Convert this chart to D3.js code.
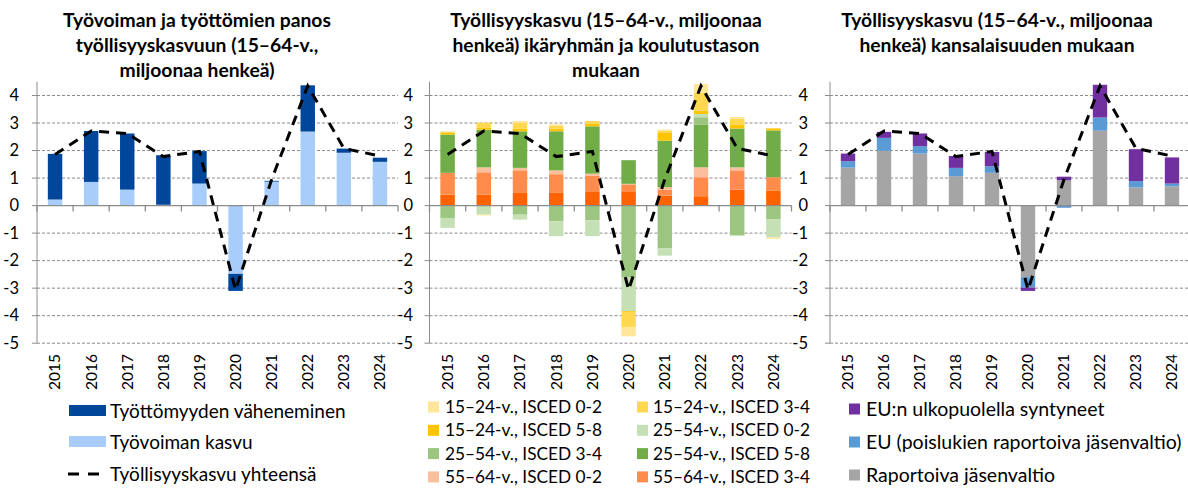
<!DOCTYPE html>
<html>
<head>
<meta charset="utf-8">
<script src="https://cdn.jsdelivr.net/npm/d3@7"></script>
<style>
body { margin: 0; background: #fff; }
text { font-family: Lato, 'Open Sans', sans-serif; fill: #000; }
</style>
</head>
<body>
<svg id="chart" width="1188" height="488"></svg>
<script>
// values, millions of persons
const years = ['2015', '2016', '2017', '2018', '2019', '2020', '2021', '2022', '2023', '2024']
const total = [1.86, 2.71, 2.62, 1.78, 1.97, -3.06, 0.95, 4.35, 2.08, 1.80]

// panel 1
const labourGrowth = [0.22, 0.86, 0.58, 0.03, 0.80, -2.48, 0.87, 2.69, 1.92, 1.59]
const unempFall = [1.66, 1.85, 2.04, 1.80, 1.18, -0.62, 0.03, 1.68, 0.15, 0.15]

// panel 2, age group x education
const y1524e02 = [0.02, -0.03, 0.07, 0.04, 0.01, -0.34, 0.03, 0.32, 0.07, -0.05]
const y1524e34 = [0.04, 0.17, 0.20, 0.12, 0.10, -0.55, 0.09, 0.65, 0.20, 0.03]
const y1524e58 = [0.06, 0.08, 0.10, 0.09, 0.09, -0.03, 0.28, 0.12, 0.15, 0.06]
const y2554e02 = [-0.36, -0.33, -0.18, -0.54, -0.58, -1.21, -0.26, 0.12, -0.03, -0.67]
const y2554e34 = [-0.43, 0.00, -0.33, -0.57, -0.53, -2.62, -1.56, 0.26, -1.08, -0.47]
const y2554e58 = [1.39, 1.37, 1.33, 1.42, 1.72, 0.86, 1.69, 1.56, 1.41, 1.70]
const y5564e02 = [-0.02, 0.18, 0.09, 0.14, 0.07, 0.02, 0.09, 0.36, 0.11, -0.02]
const y5564e34 = [0.79, 0.81, 0.82, 0.66, 0.57, 0.25, 0.22, 0.69, 0.70, 0.48]
const y5564e58 = [0.40, 0.40, 0.46, 0.48, 0.52, 0.52, 0.36, 0.34, 0.58, 0.55]

// panel 3, country of birth
const nativeBorn = [1.38, 1.99, 1.89, 1.07, 1.19, -2.60, 0.92, 2.72, 0.66, 0.70]
const euBorn = [0.23, 0.47, 0.27, 0.30, 0.24, -0.38, -0.08, 0.48, 0.23, 0.10]
const nonEuBorn = [0.28, 0.22, 0.46, 0.43, 0.52, -0.12, 0.13, 1.19, 1.16, 0.95]

const yTicks = [-5, -4, -3, -2, -1, 0, 1, 2, 3, 4]

const svg = d3.select('#chart')
const y = d3.scaleLinear().domain([-5, 4]).range([343.2, 95.5])

const panels = [
    {
        left: 37, right: 398, labelX: 19, titleX: 197,
        title: ['Työvoiman ja työttömien panos', 'työllisyyskasvuun (15–64-v.,', 'miljoonaa henkeä)'],
        series: [
            {name: 'Työvoiman kasvu', values: labourGrowth, color: '#a9cdfb'},
            {name: 'Työttömyyden väheneminen', values: unempFall, color: '#00479b'}
        ]
    },
    {
        left: 429.5, right: 791.5, labelX: 413, titleX: 606,
        title: ['Työllisyyskasvu (15–64-v., miljoonaa', 'henkeä) ikäryhmän ja koulutustason', 'mukaan'],
        series: [
            {name: '55–64-v., ISCED 5-8', values: y5564e58, color: '#ff6200'},
            {name: '55–64-v., ISCED 3-4', values: y5564e34, color: '#ff8c4c'},
            {name: '55–64-v., ISCED 0-2', values: y5564e02, color: '#fcbf9d'},
            {name: '25–54-v., ISCED 5-8', values: y2554e58, color: '#70ad47'},
            {name: '25–54-v., ISCED 3-4', values: y2554e34, color: '#9cc680'},
            {name: '25–54-v., ISCED 0-2', values: y2554e02, color: '#c6e0b5'},
            {name: '15–24-v., ISCED 5-8', values: y1524e58, color: '#ffc400'},
            {name: '15–24-v., ISCED 3-4', values: y1524e34, color: '#ffd850'},
            {name: '15–24-v., ISCED 0-2', values: y1524e02, color: '#ffe699'}
        ]
    },
    {
        left: 830, right: 1190, labelX: 808, titleX: 997,
        title: ['Työllisyyskasvu (15–64-v., miljoonaa', 'henkeä) kansalaisuuden mukaan'],
        series: [
            {name: 'Raportoiva jäsenvaltio', values: nativeBorn, color: '#a5a5a5'},
            {name: 'EU (poislukien raportoiva jäsenvaltio)', values: euBorn, color: '#5b9bd5'},
            {name: 'EU:n ulkopuolella syntyneet', values: nonEuBorn, color: '#7030a0'}
        ]
    }
]

function drawPanel(p) {
    const g = svg.append('g')
    const x = d3.scaleBand().domain(years).range([p.left, p.right]).paddingInner(0.6).paddingOuter(0.3)
    const step = x.step()
    const keys = p.series.map(s => s.name)
    const rows = years.map((yr, i) => {
        const r = {year: yr}
        p.series.forEach(s => r[s.name] = s.values[i])
        return r
    })
    const stacked = d3.stack().keys(keys).offset(d3.stackOffsetDiverging)(rows)

    // title
    g.selectAll('.title').data(p.title).enter().append('text')
        .attr('x', p.titleX).attr('y', (d, i) => 27 + i * 25)
        .attr('text-anchor', 'middle').style('font-size', '19.3px').style('font-weight', 'bold')
        .text(d => d)

    // gridlines
    g.selectAll('.grid').data(yTicks.filter(v => v != 0)).enter().append('line')
        .attr('x1', p.left).attr('x2', p.right).attr('y1', d => y(d)).attr('y2', d => y(d))
        .style('stroke', '#8c8c8c').style('stroke-dasharray', '3,2')

    // bars
    stacked.forEach((layer, j) => {
        g.selectAll('.bar' + j).data(layer).enter().append('rect')
            .attr('x', d => x(d.data.year)).attr('width', x.bandwidth())
            .attr('y', d => y(Math.max(d[0], d[1])))
            .attr('height', d => Math.abs(y(d[0]) - y(d[1])))
            .style('fill', p.series[j].color)
    })

    // axes
    g.append('line').attr('x1', p.left).attr('x2', p.left).attr('y1', y(4.5)).attr('y2', y(-5))
        .style('stroke', '#8c8c8c')
    g.selectAll('.ytick').data(yTicks).enter().append('line')
        .attr('x1', p.left - 5).attr('x2', p.left).attr('y1', d => y(d)).attr('y2', d => y(d))
        .style('stroke', '#8c8c8c')
    g.append('line').attr('x1', p.left).attr('x2', p.right).attr('y1', y(0)).attr('y2', y(0))
        .style('stroke', '#8c8c8c').style('stroke-width', 1.3)
    g.selectAll('.xtick').data(d3.range(years.length + 1)).enter().append('line')
        .attr('x1', i => p.left + i * step).attr('x2', i => p.left + i * step)
        .attr('y1', y(0)).attr('y2', y(0) + 6)
        .style('stroke', '#8c8c8c').style('stroke-width', 1.3)

    g.selectAll('.ylab').data(yTicks).enter().append('text')
        .attr('x', p.labelX).attr('y', d => y(d)).attr('dy', '0.35em')
        .attr('text-anchor', 'end').style('font-size', '16.5px')
        .text(d => d)
    g.selectAll('.xlab').data(years).enter().append('text')
        .attr('transform', d => `translate(${x(d) + x.bandwidth() / 2},354) rotate(-90)`)
        .attr('dy', '0.35em').attr('text-anchor', 'end').style('font-size', '15.5px')
        .text(d => d)

    // total line
    const line = d3.line().x((d, i) => x(years[i]) + x.bandwidth() / 2).y(d => y(d))
    g.append('path').datum(total).attr('d', line)
        .style('fill', 'none').style('stroke', '#000').style('stroke-width', 3)
        .style('stroke-dasharray', '10,7')
}

panels.forEach(drawPanel)

// legends
const leg1 = svg.append('g')
const leg1Items = [panels[0].series[1], panels[0].series[0]]
leg1.selectAll('rect').data(leg1Items).enter().append('rect')
    .attr('x', 69).attr('y', (d, i) => 405 + i * 31).attr('width', 37).attr('height', 11)
    .style('fill', d => d.color)
leg1.selectAll('text').data(leg1Items.map(d => d.name).concat(['Työllisyyskasvu yhteensä'])).enter().append('text')
    .attr('x', 110).attr('y', (d, i) => 411 + i * 31.5).attr('dy', '0.35em').style('font-size', '19px')
    .text(d => d)
leg1.append('line').attr('x1', 68).attr('x2', 106).attr('y1', 474).attr('y2', 474)
    .style('stroke', '#000').style('stroke-width', 3).style('stroke-dasharray', '11,9')

// panel 2 legend: 4 rows x 2 columns, the ninth series does not fit
const leg2Items = panels[1].series.slice().reverse().slice(0, 8)
const leg2 = svg.append('g')
leg2.selectAll('rect').data(leg2Items).enter().append('rect')
    .attr('x', (d, i) => i % 2 ? 637 : 428).attr('y', (d, i) => 401.5 + Math.floor(i / 2) * 23.3)
    .attr('width', 11).attr('height', 11).style('fill', d => d.color)
leg2.selectAll('text').data(leg2Items).enter().append('text')
    .attr('x', (d, i) => i % 2 ? 653 : 445).attr('y', (d, i) => 407 + Math.floor(i / 2) * 23.3)
    .attr('dy', '0.35em').style('font-size', '17.3px')
    .text(d => d.name)

const leg3Items = panels[2].series.slice().reverse()
const leg3 = svg.append('g')
leg3.selectAll('rect').data(leg3Items).enter().append('rect')
    .attr('x', 849).attr('y', (d, i) => 403.5 + i * 33).attr('width', 11).attr('height', 11)
    .style('fill', d => d.color)
leg3.selectAll('text').data(leg3Items).enter().append('text')
    .attr('x', 866).attr('y', (d, i) => 409 + i * 33).attr('dy', '0.35em').style('font-size', '19.5px')
    .text(d => d.name)
</script>
</body>
</html>
